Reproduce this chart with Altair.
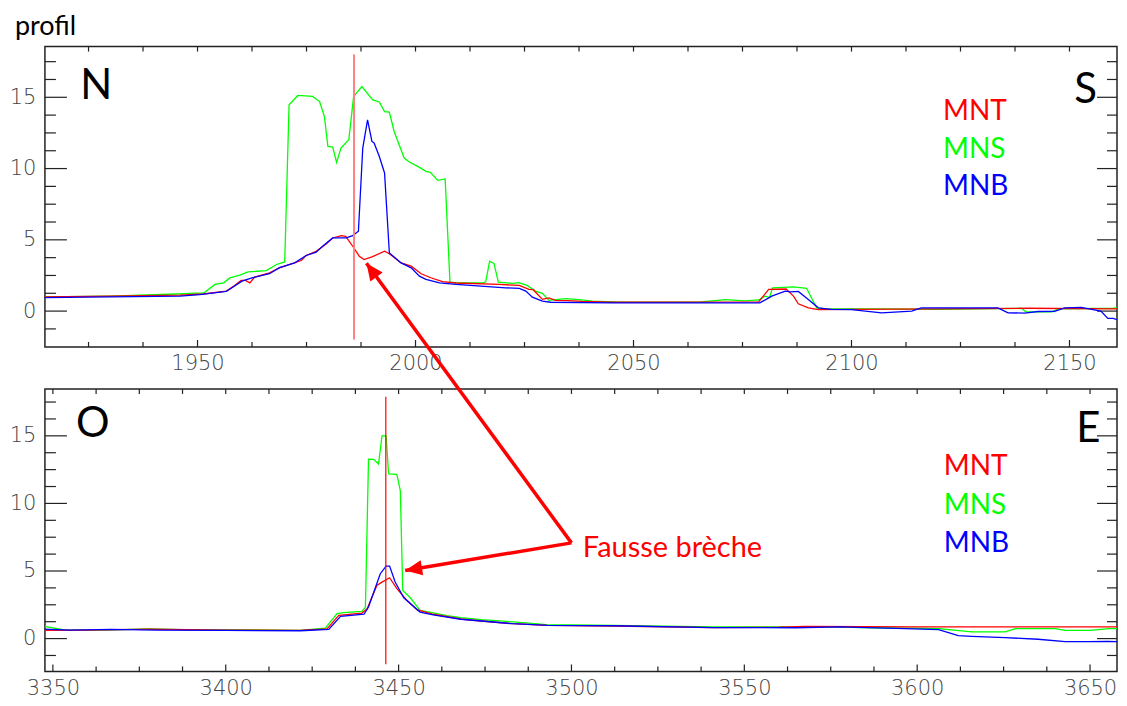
import altair as alt
import pandas as pd

# ---------------- top profile (N - S) ----------------
top_mns_x = [1915, 1930, 1945, 1951.5, 1954, 1956, 1957.4, 1959.7, 1961.6, 1965.8, 1968.1, 1970,
             1971, 1973, 1976.4, 1978, 1979.1, 1979.9, 1981, 1981.9, 1982.9, 1984.7, 1985.8, 1987.7,
             1990.2, 1991.7, 1992.9, 1994, 1995.1, 1997.4, 1998.6, 2000.9, 2002.4, 2003.4, 2005.1,
             2006.8, 2007.9, 2010, 2015.4, 2016.1, 2017.0, 2018, 2019, 2022.2, 2023.7, 2025.6,
             2027.5, 2029.1, 2030.6, 2032, 2034.6, 2037.5, 2040.5, 2045.8, 2065, 2071, 2075.6,
             2078.7, 2080.2, 2081.2, 2081.9, 2086.7, 2089.7, 2092, 2094, 2105, 2120, 2139, 2140,
             2146, 2147.4, 2160, 2161.5, 2162.5]
top_mns_y = [1.0, 1.05, 1.2, 1.28, 1.87, 1.98, 2.33, 2.52, 2.75, 2.84, 3.27, 3.45,
             14.47, 15.13, 15.06, 14.7, 13.65, 11.55, 11.5, 10.43, 11.44, 12.02, 15.05, 15.75,
             14.82, 14.67, 14.0, 13.96, 12.6, 10.74, 10.46, 10.08, 9.8, 9.73, 9.17,
             9.27, 2.03, 1.97, 1.97, 2.05, 3.5, 3.35, 2.03, 1.95, 2.0, 1.8,
             1.4, 1.25, 0.75, 0.8, 0.88, 0.8, 0.7, 0.65, 0.62, 0.8, 0.72,
             0.78, 1.05, 0.95, 1.63, 1.7, 1.6, 0.23, 0.16, 0.15, 0.12, 0.2, -0.05,
             -0.05, 0.15, 0.2, 0.25, 0.1]

top_mnt_x = [1915, 1930, 1946, 1951.3, 1956.6, 1958.5, 1960, 1961, 1962, 1963.1, 1966.5, 1968.8,
             1973.8, 1974.9, 1977.2, 1979.5, 1981, 1983, 1984, 1985.6, 1987.1, 1988.2, 1990,
             1992.9, 1994, 1996.7, 1999, 2001.3, 2003.5, 2006.2, 2009.3, 2019.2, 2023.8, 2026,
             2027, 2029.1, 2030.6, 2032.1, 2035, 2038.2, 2045, 2078.7, 2081, 2085, 2086.7,
             2087.8, 2090.1, 2092.4, 2100, 2120, 2140, 2162.5]
top_mnt_y = [1.0, 1.05, 1.12, 1.2, 1.4, 1.8, 2.15, 2.15, 1.98, 2.38, 2.68, 3.03,
             3.55, 3.9, 4.2, 4.71, 5.13, 5.3, 5.25, 4.55, 3.85, 3.62, 3.8,
             4.2, 4.02, 3.38, 3.15, 2.62, 2.34, 2.06, 1.97, 1.87, 1.8, 1.52,
             1.5, 0.82, 0.93, 0.75, 0.73, 0.68, 0.62, 0.65, 1.52, 1.55, 1.05,
             0.51, 0.23, 0.1, 0.12, 0.15, 0.2, 0.15]

top_mnb_x = [1915, 1930, 1946, 1950.5, 1956.6, 1960.2, 1962.5, 1966.5, 1968.8, 1972.3, 1974.9,
             1977.2, 1978.7, 1981, 1984.1, 1985.6, 1986.9, 1987.9, 1989.0, 1990, 1990.5, 1991.7,
             1992.9, 1994, 1996.7, 1999, 2000.9, 2002.4, 2005.5, 2009.3, 2020.7, 2023.8, 2025.3,
             2026.8, 2029.1, 2031, 2045, 2079, 2081.7, 2084.8, 2086, 2087.8, 2090.1, 2092.4,
             2095.4, 2100, 2106.9, 2113.8, 2116, 2124.4, 2133.6, 2135.9, 2139.7, 2142.8, 2146.6,
             2148.9, 2152.7, 2157.2, 2158.8, 2160, 2161.4, 2162.5]
top_mnb_y = [0.95, 1.0, 1.05, 1.15, 1.38, 2.1, 2.33, 2.62, 3.05, 3.38, 3.9,
             4.13, 4.55, 5.13, 5.13, 5.3, 5.6, 11.44, 13.42, 11.9, 11.8, 10.85,
             9.69, 4.08, 3.38, 3.03, 2.45, 2.22, 1.98, 1.87, 1.63, 1.6, 1.4,
             0.98, 0.7, 0.62, 0.58, 0.58, 1.05, 1.4, 1.35, 1.38, 0.82, 0.23,
             0.12, 0.1, -0.12, 0.0, 0.23, 0.23, 0.23, -0.12, -0.14, -0.03, -0.02,
             0.23, 0.26, 0.0, -0.51, -0.51, -0.65, -0.4]

# ---------------- bottom profile (O - E) ----------------
bot_mns_x = [3347.5, 3353.3, 3365, 3378, 3390, 3405, 3421.6, 3428.8, 3432.2, 3434, 3439.4, 3440.4,
             3441.3, 3442.8, 3444.2, 3445.2, 3446.4, 3447.1, 3449.5, 3450.5, 3451.2, 3453.4,
             3456.2, 3460, 3464, 3468, 3474, 3483.2, 3492.8, 3512, 3540.9, 3575.5, 3587,
             3606.2, 3615.8, 3625.4, 3628.4, 3639.9, 3642.8, 3650, 3655.5, 3660]
bot_mns_y = [0.91, 0.65, 0.62, 0.72, 0.65, 0.65, 0.61, 0.77, 1.84, 1.92, 2.01, 2.33,
             13.28, 13.26, 12.91, 15.0, 15.0, 12.18, 12.15, 10.94, 3.56, 3.02,
             2.09, 1.9, 1.7, 1.55, 1.4, 1.23, 1.03, 0.98, 0.86, 0.86, 0.8,
             0.74, 0.49, 0.49, 0.74, 0.74, 0.61, 0.61, 0.74, 0.74]

bot_mnt_x = [3347.5, 3360, 3378, 3400, 3421.6, 3429.3, 3432.7, 3439.4, 3440.9, 3443.7, 3445.2,
             3447.4, 3449.5, 3452.4, 3455.3, 3460, 3468, 3474, 3483, 3493, 3512, 3541, 3560,
             3567.8, 3600, 3660]
bot_mnt_y = [0.6, 0.62, 0.7, 0.62, 0.61, 0.72, 1.72, 1.89, 2.21, 3.93, 4.18,
             4.5, 3.69, 2.83, 2.14, 1.8, 1.45, 1.3, 1.1, 0.98, 0.93, 0.81, 0.84,
             0.9, 0.86, 0.86]

bot_mnb_x = [3347.5, 3355, 3367, 3380, 3400, 3421.6, 3429.8, 3433.2, 3440, 3441.3, 3444.7, 3446.4,
             3447.4, 3449.0, 3451.5, 3456.2, 3460, 3468, 3474, 3483, 3493, 3512, 3541, 3564.9,
             3577.4, 3596.6, 3606.2, 3610, 3611.9, 3615.8, 3625.4, 3635, 3642.8, 3649.5, 3655,
             3660]
bot_mnb_y = [0.7, 0.62, 0.68, 0.62, 0.6, 0.58, 0.68, 1.65, 1.8, 2.33, 4.8, 5.36,
             5.36, 4.18, 3.02, 1.96, 1.75, 1.43, 1.3, 1.1, 0.98, 0.95, 0.81, 0.8,
             0.86, 0.74, 0.66, 0.37, 0.22, 0.17, 0.07, -0.05, -0.22, -0.22, -0.2,
             -0.25]

# axis tick values
top_x_major = [1950, 2000, 2050, 2100, 2150]
top_x_minor = [1925, 1937.5, 1962.5, 1975, 1987.5, 2012.5, 2025, 2037.5, 2062.5, 2075, 2087.5,
               2112.5, 2125, 2137.5]
bot_x_major = [3350, 3400, 3450, 3500, 3550, 3600, 3650]
bot_x_minor = [3362.5, 3375, 3387.5, 3412.5, 3425, 3437.5, 3462.5, 3475, 3487.5, 3512.5, 3525,
               3537.5, 3562.5, 3575, 3587.5, 3612.5, 3625, 3637.5]
y_major = [0, 5, 10, 15]
y_minor = [-1.25, 1.25, 2.5, 3.75, 6.25, 7.5, 8.75, 11.25, 12.5, 13.75, 16.25, 17.5]

series_names = ["MNT", "MNS", "MNB"]
series_colors = ["#ff0000", "#00ff00", "#0000ff"]

W = 1074
FRAME = "#222222"
LABEL_FONT = "DejaVu Sans"
TEXT_FONT = "Lato"


def xy(xs, ys):
    return pd.DataFrame({"x": xs, "y": ys})


def panel(xdom, ydom, H, lines, xmaj, xmin, vline, vline_color, vline_w,
          corner, legend_pos, extra):
    xs = alt.Scale(domain=xdom, nice=False, zero=False)
    ys = alt.Scale(domain=ydom, nice=False, zero=False)
    ax_x = alt.Axis(values=xmaj, ticks=False, domain=False, grid=False, title=None,
                    format="d", labelFont=LABEL_FONT, labelFontSize=21, labelFontWeight=200,
                    labelColor="#444444", labelPadding=6, labelFlush=False,
                    labelOverlap=False)
    ax_y = alt.Axis(values=y_major, ticks=False, domain=False, grid=False, title=None,
                    format="d", labelFont=LABEL_FONT, labelFontSize=21, labelFontWeight=200,
                    labelColor="#444444", labelPadding=9)
    X = lambda f: alt.X(f, type="quantitative", scale=xs, axis=ax_x)
    Y = lambda f: alt.Y(f, type="quantitative", scale=ys, axis=ax_y)

    layers = []

    def xr(vals, y0, y1):
        return alt.Chart(pd.DataFrame({"v": vals})).mark_rule(
            color=FRAME, strokeWidth=1.2).encode(
            x=X("v"), y=alt.value(y0), y2=alt.value(y1))

    def yr(vals, x0, x1):
        return alt.Chart(pd.DataFrame({"v": vals})).mark_rule(
            color=FRAME, strokeWidth=1.2).encode(
            y=Y("v"), x=alt.value(x0), x2=alt.value(x1))

    layers += [xr(xmaj, H - 7, H), xr(xmin, H - 5, H), xr(xmaj + xmin, 0, 5),
               yr(y_major, 0, 22), yr(y_minor, 0, 11),
               yr(y_major, W - 20, W), yr(y_minor, W - 10, W)]

    for (xs_, ys_), col in lines:
        layers.append(alt.Chart(xy(xs_, ys_)).mark_line(
            color=col, strokeWidth=1.3, clip=True).encode(x=X("x"), y=Y("y")))

    layers.append(alt.Chart(pd.DataFrame({"x": [vline[0]], "y1": [vline[1]], "y2": [vline[2]]}))
                  .mark_rule(color=vline_color, strokeWidth=vline_w)
                  .encode(x=X("x"), y=Y("y1"), y2="y2"))

    layers.append(alt.Chart(pd.DataFrame(corner, columns=["x", "y", "t"]))
                  .mark_text(font=TEXT_FONT, fontSize=42, align="left",
                             baseline="alphabetic", color="black")
                  .encode(x=X("x"), y=Y("y"), text="t"))

    lx, ly = legend_pos
    layers.append(alt.Chart(pd.DataFrame({"x": [lx] * 3, "y": ly, "t": series_names,
                                          "c": series_colors}))
                  .mark_text(font=TEXT_FONT, fontSize=28, align="left", baseline="alphabetic")
                  .encode(x=X("x"), y=Y("y"), text="t", color=alt.Color("c:N", scale=None)))

    layers += extra(X, Y)
    return alt.layer(*layers).properties(width=W, height=H)


def top_extra(X, Y):
    return [alt.Chart(pd.DataFrame({"t": ["profil"]})).mark_text(
        font=TEXT_FONT, fontSize=27, align="left", baseline="alphabetic", color="black")
        .encode(x=alt.value(-30), y=alt.value(-11.5), text="t")]


note_text = "Fausse brèche"
note_pos = (3503.3, 6.02)
arrow_start = (3500.0, 7.08)
arrow_tips_x = [3440.7, 3451.9]
arrow_tips_y = [27.77, 5.04]
arrow_angles = [323.7, 260.6]


def bot_extra(X, Y):
    seg = pd.DataFrame({"x": [arrow_start[0]] * 2, "y": [arrow_start[1]] * 2,
                        "x2": arrow_tips_x, "y2": arrow_tips_y, "a": arrow_angles})
    return [
        alt.Chart(seg).mark_rule(color="#ff0000", strokeWidth=3.5)
        .encode(x=X("x"), y=Y("y"), x2="x2", y2="y2"),
        alt.Chart(seg).mark_point(shape="M0,0 L-0.45,1 L0.45,1 Z", filled=True, opacity=1,
                                  color="#ff0000", size=1156)
        .encode(x=X("x2"), y=Y("y2"), angle=alt.Angle("a:Q", scale=None)),
        alt.Chart(pd.DataFrame({"x": [note_pos[0]], "y": [note_pos[1]], "t": [note_text]}))
        .mark_text(font=TEXT_FONT, fontSize=29, align="left", baseline="alphabetic",
                   color="#ff0000")
        .encode(x=X("x"), y=Y("y"), text="t"),
    ]


top = panel([1915, 2160.9], [-2.52, 18.56], 301,
            [((top_mns_x, top_mns_y), "#00ff00"), ((top_mnt_x, top_mnt_y), "#ff0000"),
             ((top_mnb_x, top_mnb_y), "#0000ff")],
            top_x_major, top_x_minor, (1985.9, -2.0, 18.0), "#ff8080", 2,
            [(1923.1, 14.85, "N"), (2151.1, 14.59, "S")],
            (2121.0, [13.38, 10.74, 8.12]), top_extra)

bottom = panel([3347.7, 3657.8], [-2.43, 18.47], 283,
               [((bot_mns_x, bot_mns_y), "#00ff00"), ((bot_mnt_x, bot_mnt_y), "#ff0000"),
                ((bot_mnb_x, bot_mnb_y), "#0000ff")],
               bot_x_major, bot_x_minor, (3446.3, -1.9, 17.9), "#ff0000", 1.2,
               [(3356.7, 14.88, "O"), (3646.0, 14.51, "E")],
               (3607.7, [12.10, 9.23, 6.39]), bot_extra)

chart = alt.vconcat(top, bottom, spacing=42, bounds="flush").properties(
    padding={"left": 0, "top": 3, "right": 0, "bottom": 0},
    background="white",
).configure_view(stroke=FRAME, strokeWidth=1.5)

chart.save("out.html", embed_options={"renderer": "svg", "actions": False})
